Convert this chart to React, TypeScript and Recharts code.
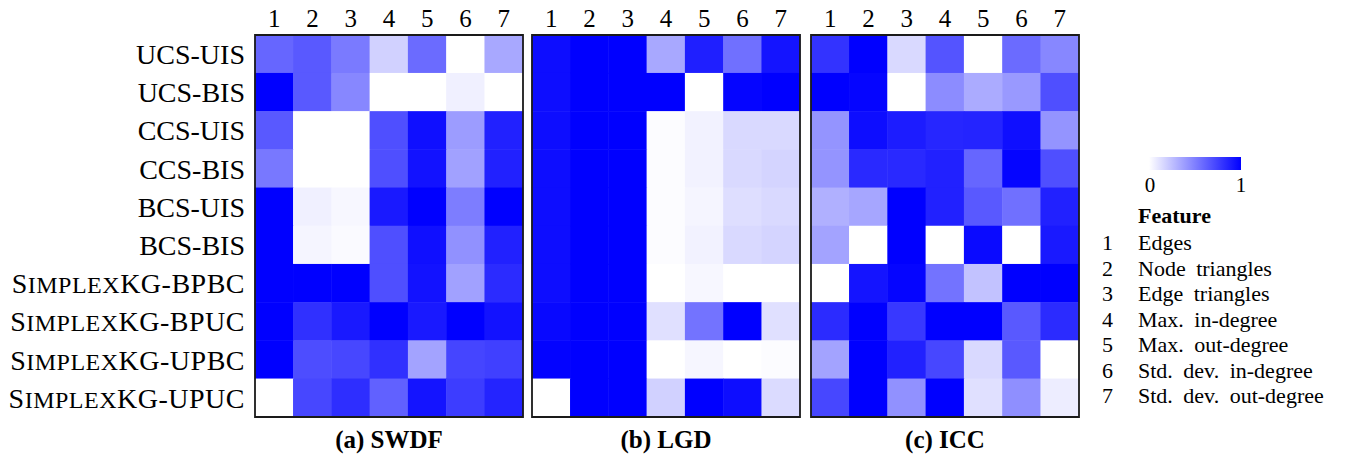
import { ScatterChart, Scatter, XAxis, YAxis, ReferenceArea } from "recharts";

// heatmaps of normalised feature values, white (0) -> blue (1)

const FEATURE_IDS = ["1", "2", "3", "4", "5", "6", "7"];
const FEATURE_NAMES = [
  "Edges",
  "Node triangles",
  "Edge triangles",
  "Max. in-degree",
  "Max. out-degree",
  "Std. dev. in-degree",
  "Std. dev. out-degree",
];

const METHODS = [
  "UCS-UIS",
  "UCS-BIS",
  "CCS-UIS",
  "CCS-BIS",
  "BCS-UIS",
  "BCS-BIS",
  "SimplexKG-BPBC",
  "SimplexKG-BPUC",
  "SimplexKG-UPBC",
  "SimplexKG-UPUC",
];

const SWDF = [
  [0.6, 0.65, 0.52, 0.18, 0.58, 0.0, 0.34],
  [1.0, 0.65, 0.47, 0.0, 0.0, 0.06, 0.0],
  [0.65, 0.0, 0.0, 0.69, 0.94, 0.39, 0.87],
  [0.53, 0.0, 0.0, 0.69, 0.93, 0.37, 0.87],
  [1.0, 0.06, 0.03, 0.9, 1.0, 0.51, 1.0],
  [1.0, 0.04, 0.02, 0.69, 0.94, 0.43, 0.87],
  [1.0, 1.0, 1.0, 0.69, 0.93, 0.37, 0.83],
  [1.0, 0.81, 0.9, 1.0, 0.9, 1.0, 0.93],
  [1.0, 0.7, 0.72, 0.81, 0.36, 0.73, 0.75],
  [0.0, 0.72, 0.82, 0.62, 0.92, 0.76, 0.86],
];

const LGD = [
  [0.95, 1.0, 1.0, 0.34, 0.88, 0.56, 0.92],
  [0.95, 1.0, 1.0, 1.0, 0.0, 0.98, 1.0],
  [0.95, 1.0, 1.0, 0.01, 0.05, 0.15, 0.15],
  [0.95, 1.0, 1.0, 0.01, 0.05, 0.15, 0.17],
  [0.95, 1.0, 1.0, 0.01, 0.04, 0.13, 0.15],
  [0.95, 1.0, 1.0, 0.01, 0.05, 0.15, 0.17],
  [0.95, 1.0, 1.0, 0.0, 0.03, 0.0, 0.0],
  [0.97, 1.0, 1.0, 0.12, 0.55, 1.0, 0.12],
  [0.99, 1.0, 1.0, 0.0, 0.035, 0.0, 0.01],
  [0.0, 1.0, 1.0, 0.18, 1.0, 0.95, 0.14],
];

const ICC = [
  [0.8, 1.0, 0.15, 0.67, 0.0, 0.58, 0.47],
  [1.0, 0.98, 0.0, 0.45, 0.33, 0.4, 0.69],
  [0.42, 0.95, 0.89, 0.85, 0.86, 0.94, 0.42],
  [0.42, 0.84, 0.84, 0.87, 0.6, 0.98, 0.69],
  [0.31, 0.35, 1.0, 0.87, 0.65, 0.56, 0.87],
  [0.36, 0.0, 1.0, 0.0, 0.96, 0.0, 0.9],
  [0.0, 0.92, 0.98, 0.55, 0.24, 1.0, 1.0],
  [0.83, 1.0, 0.78, 1.0, 1.0, 0.65, 0.83],
  [0.36, 1.0, 0.87, 0.72, 0.15, 0.65, 0.0],
  [0.72, 1.0, 0.43, 1.0, 0.12, 0.44, 0.07],
];

const PANELS = [
  { title: "(a) SWDF", values: SWDF },
  { title: "(b) LGD", values: LGD },
  { title: "(c) ICC", values: ICC },
];

const SERIF = '"Liberation Serif", "DejaVu Serif", serif';

const H = 457;
const PLOT_W = 268;
const PLOT_H = 382;
const CELL_W = PLOT_W / FEATURE_IDS.length;
const CELL_H = PLOT_H / METHODS.length;
const PLOT_LEFTS = [255, 532, 811];
const LABEL_W = 255;

const heat = (v: number) => {
  const c = Math.round(255 * (1 - v));
  return `rgb(${c},${c},255)`;
};

const HeatCell = (props: any) => {
  const { cx, cy, payload } = props;
  return (
    <rect
      x={cx - CELL_W / 2 - 0.25}
      y={cy - CELL_H / 2 - 0.25}
      width={CELL_W + 0.5}
      height={CELL_H + 0.5}
      fill={heat(payload.v)}
    />
  );
};

// "Simplex" is typeset in small caps, like \textsc{Simplex}
const MethodTick = (props: any) => {
  const { x, y, payload } = props;
  const label = METHODS[payload.value - 1];
  const sc = label.startsWith("Simplex");
  return (
    <text
      x={x}
      y={y}
      dy="0.35em"
      textAnchor="end"
      fill="#000"
      style={{ fontFamily: SERIF, fontSize: 28, letterSpacing: sc ? 0.5 : 0 }}
    >
      {sc ? (
        <>
          <tspan>S</tspan>
          <tspan style={{ fontSize: 24 }}>IMPLEX</tspan>
          <tspan>{label.slice(7)}</tspan>
        </>
      ) : (
        label
      )}
    </text>
  );
};

function Heatmap({ values, index }: { values: number[][]; index: number }) {
  const withLabels = index === 0;
  const pad = 6;
  const left = withLabels ? 0 : PLOT_LEFTS[index] - pad;
  const width = withLabels ? LABEL_W + PLOT_W + pad : PLOT_W + 2 * pad;

  const points = values.flatMap((row, r) =>
    row.map((v, c) => ({ x: c + 1, y: r + 1, v })),
  );

  return (
    <div style={{ position: "absolute", left, top: 0 }}>
      <ScatterChart
        width={width}
        height={H}
        margin={{ top: 5, right: pad, bottom: 40, left: withLabels ? 0 : pad }}
      >
        <XAxis
          dataKey="x"
          type="number"
          orientation="top"
          domain={[0.5, 7.5]}
          ticks={FEATURE_IDS.map((_, i) => i + 1)}
          tickFormatter={(v) => FEATURE_IDS[v - 1]}
          tickLine={false}
          axisLine={false}
          height={30}
          tick={{
            fontSize: 25,
            fill: "#000",
            fontFamily: SERIF,
            style: { fontFamily: SERIF },
          }}
        />
        <YAxis
          dataKey="y"
          type="number"
          domain={[0.5, 10.5]}
          reversed
          ticks={METHODS.map((_, i) => i + 1)}
          hide={!withLabels}
          width={LABEL_W}
          tickLine={false}
          axisLine={false}
          tickMargin={4}
          tick={<MethodTick />}
        />
        <Scatter data={points} shape={<HeatCell />} isAnimationActive={false} />
        <ReferenceArea
          x1={0.5}
          x2={7.5}
          y1={0.5}
          y2={10.5}
          fill="none"
          fillOpacity={0}
          stroke="#1a1a1a"
          strokeWidth={1.8}
          zIndex={1000}
        />
      </ScatterChart>
    </div>
  );
}

export default function App() {
  return (
    <div
      style={{
        position: "absolute",
        left: 0,
        top: 0,
        width: 1353,
        height: H,
        background: "#fff",
        fontFamily: SERIF,
      }}
    >
      {PANELS.map((p, i) => (
        <Heatmap key={p.title} values={p.values} index={i} />
      ))}
      <svg
        width={1353}
        height={H}
        style={{
          position: "absolute",
          left: 0,
          top: 0,
          pointerEvents: "none",
          fontFamily: SERIF,
        }}
      >
        <defs>
          <linearGradient id="heatScale" x1="0" x2="1" y1="0" y2="0">
            <stop offset="0" stopColor={heat(0)} />
            <stop offset="1" stopColor={heat(1)} />
          </linearGradient>
        </defs>
        {PANELS.map((p, i) => (
          <text
            key={p.title}
            x={PLOT_LEFTS[i] + PLOT_W / 2}
            y={448}
            textAnchor="middle"
            fontWeight="bold"
            fontSize={25}
            fill="#000"
          >
            {p.title}
          </text>
        ))}
        <rect x={1149} y={157} width={92} height={13} fill="url(#heatScale)" />
        <text x={1150} y={192} textAnchor="middle" fontSize={21}>
          0
        </text>
        <text x={1241} y={192} textAnchor="middle" fontSize={21}>
          1
        </text>
        <text x={1138} y={223} fontSize={22} fontWeight="bold">
          Feature
        </text>
        {FEATURE_NAMES.map((name, i) => (
          <g key={name} fontSize={22} fill="#000">
            <text x={1102} y={250 + i * 25.5}>
              {FEATURE_IDS[i]}
            </text>
            <text x={1138} y={250 + i * 25.5} style={{ wordSpacing: 5 }}>
              {name}
            </text>
          </g>
        ))}
      </svg>
    </div>
  );
}
